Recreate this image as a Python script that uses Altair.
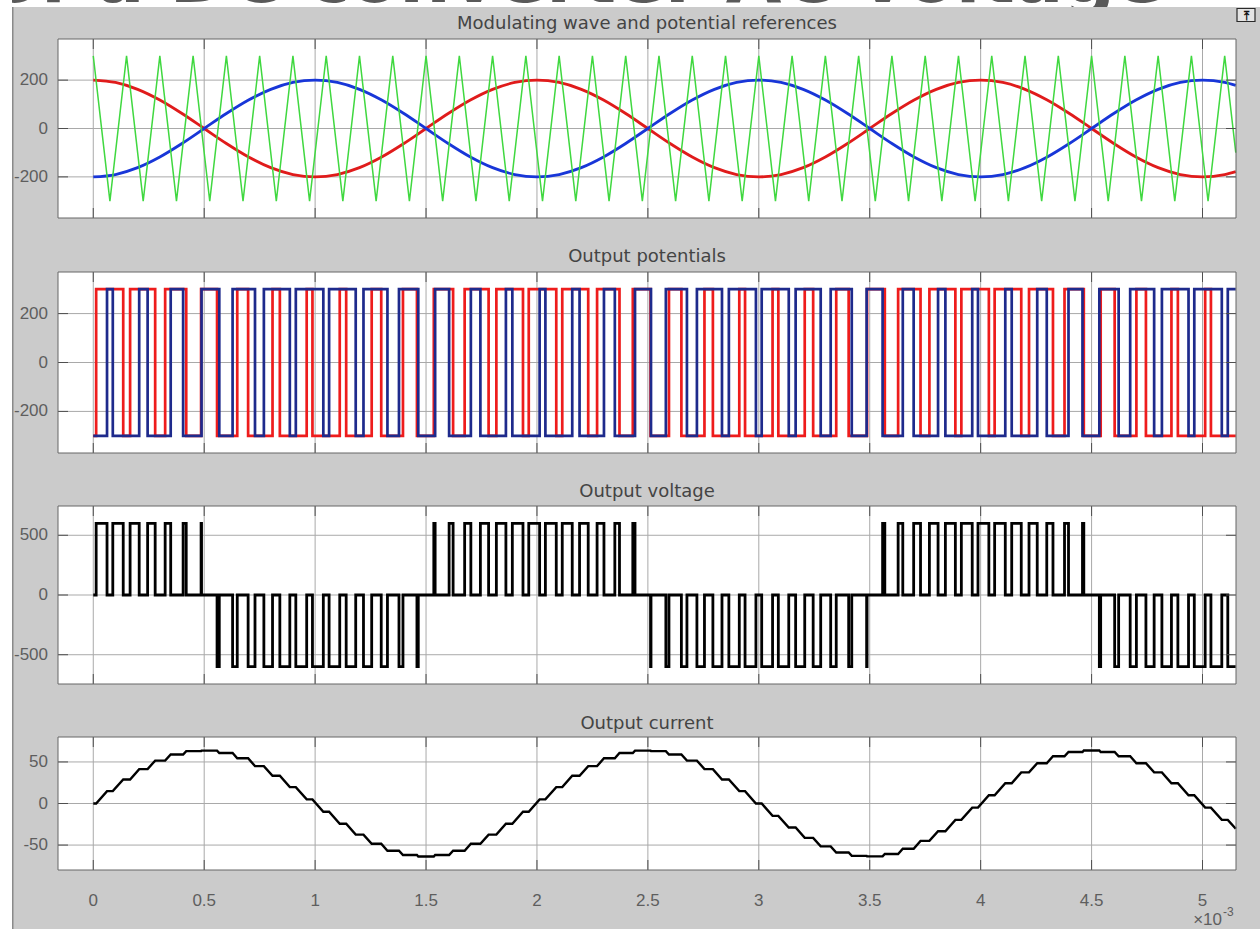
import altair as alt
import pandas as pd

# ---------------- data (time in ms) ----------------
ref_t = [0.0, 0.1, 0.2, 0.3, 0.4, 0.5, 0.6, 0.7, 0.8, 0.9,
         1.0, 1.1, 1.2, 1.3, 1.4, 1.5, 1.6, 1.7, 1.8, 1.9,
         2.0, 2.1, 2.2, 2.3, 2.4, 2.5, 2.6, 2.7, 2.8, 2.9,
         3.0, 3.1, 3.2, 3.3, 3.4, 3.5, 3.6, 3.7, 3.8, 3.9,
         4.0, 4.1, 4.2, 4.3, 4.4, 4.5, 4.6, 4.7, 4.8, 4.9,
         5.0, 5.1, 5.15]
ref_red = [200, 190.2, 161.8, 117.6, 61.8, 0, -61.8, -117.6, -161.8, -190.2,
           -200, -190.2, -161.8, -117.6, -61.8, 0, 61.8, 117.6, 161.8, 190.2,
           200, 190.2, 161.8, 117.6, 61.8, 0, -61.8, -117.6, -161.8, -190.2,
           -200, -190.2, -161.8, -117.6, -61.8, 0, 61.8, 117.6, 161.8, 190.2,
           200, 190.2, 161.8, 117.6, 61.8, 0, -61.8, -117.6, -161.8, -190.2,
           -200, -190.2, -178.2]
ref_blue = [-200, -190.2, -161.8, -117.6, -61.8, 0, 61.8, 117.6, 161.8, 190.2,
            200, 190.2, 161.8, 117.6, 61.8, 0, -61.8, -117.6, -161.8, -190.2,
            -200, -190.2, -161.8, -117.6, -61.8, 0, 61.8, 117.6, 161.8, 190.2,
            200, 190.2, 161.8, 117.6, 61.8, 0, -61.8, -117.6, -161.8, -190.2,
            -200, -190.2, -161.8, -117.6, -61.8, 0, 61.8, 117.6, 161.8, 190.2,
            200, 190.2, 178.2]
carrier_t = [0.0, 0.075, 0.15, 0.225, 0.3, 0.375, 0.45, 0.525, 0.6, 0.675,
             0.75, 0.825, 0.9, 0.975, 1.05, 1.125, 1.2, 1.275, 1.35, 1.425,
             1.5, 1.575, 1.65, 1.725, 1.8, 1.875, 1.95, 2.025, 2.1, 2.175,
             2.25, 2.325, 2.4, 2.475, 2.55, 2.625, 2.7, 2.775, 2.85, 2.925,
             3.0, 3.075, 3.15, 3.225, 3.3, 3.375, 3.45, 3.525, 3.6, 3.675,
             3.75, 3.825, 3.9, 3.975, 4.05, 4.125, 4.2, 4.275, 4.35, 4.425,
             4.5, 4.575, 4.65, 4.725, 4.8, 4.875, 4.95, 5.025, 5.1, 5.15]
carrier_v = [300, -300, 300, -300, 300, -300, 300, -300, 300, -300,
             300, -300, 300, -300, 300, -300, 300, -300, 300, -300,
             300, -300, 300, -300, 300, -300, 300, -300, 300, -300,
             300, -300, 300, -300, 300, -300, 300, -300, 300, -300,
             300, -300, 300, -300, 300, -300, 300, -300, 300, -300,
             300, -300, 300, -300, 300, -300, 300, -300, 300, -300,
             300, -300, 300, -300, 300, -300, 300, -300, 300, -100]

# switching instants in microseconds
va_switch_us = [13, 135, 166, 279, 324, 419, 486, 558, 649, 698, 808, 841, 962, 988,
                1111, 1140, 1255, 1298, 1396, 1459, 1535, 1622, 1674, 1782, 1817,
                1937, 1963, 2087, 2114, 2231, 2271, 2372, 2432, 2512, 2595, 2651,
                2755, 2793, 2912, 2938, 3062, 3088, 3207, 3245, 3349, 3405, 3488,
                3568, 3628, 3729, 3769, 3886, 3913, 4037, 4063, 4183, 4218, 4326,
                4378, 4465, 4541, 4604, 4702, 4745, 4860, 4889, 5012, 5038]
va_levels = [-300, 300, -300, 300, -300, 300, -300, 300, -300, 300,
             -300, 300, -300, 300, -300, 300, -300, 300, -300, 300,
             -300, 300, -300, 300, -300, 300, -300, 300, -300, 300,
             -300, 300, -300, 300, -300, 300, -300, 300, -300, 300,
             -300, 300, -300, 300, -300, 300, -300, 300, -300, 300,
             -300, 300, -300, 300, -300, 300, -300, 300, -300, 300,
             -300, 300, -300, 300, -300, 300, -300, 300, -300, -300]
vb_switch_us = [62, 88, 207, 245, 349, 405, 488, 568, 628, 729, 769, 886, 913, 1037,
                1063, 1183, 1218, 1326, 1378, 1465, 1541, 1604, 1702, 1745, 1860,
                1889, 2012, 2038, 2159, 2192, 2302, 2351, 2442, 2514, 2581, 2676,
                2721, 2834, 2865, 2987, 3013, 3135, 3166, 3279, 3324, 3419, 3486,
                3558, 3649, 3698, 3808, 3841, 3962, 3988, 4111, 4140, 4255, 4298,
                4396, 4459, 4535, 4622, 4674, 4782, 4817, 4937, 4963, 5087, 5114]
vb_levels = [-300, 300, -300, 300, -300, 300, -300, 300, -300, 300,
             -300, 300, -300, 300, -300, 300, -300, 300, -300, 300,
             -300, 300, -300, 300, -300, 300, -300, 300, -300, 300,
             -300, 300, -300, 300, -300, 300, -300, 300, -300, 300,
             -300, 300, -300, 300, -300, 300, -300, 300, -300, 300,
             -300, 300, -300, 300, -300, 300, -300, 300, -300, 300,
             -300, 300, -300, 300, -300, 300, -300, 300, -300, 300, 300]
vab_switch_us = [13, 62, 88, 135, 166, 207, 245, 279, 324, 349,
                 405, 419, 486, 488, 558, 568, 628, 649, 698, 729,
                 769, 808, 841, 886, 913, 962, 988, 1037, 1063, 1111,
                 1140, 1183, 1218, 1255, 1298, 1326, 1378, 1396, 1459, 1465,
                 1535, 1541, 1604, 1622, 1674, 1702, 1745, 1782, 1817, 1860,
                 1889, 1937, 1963, 2012, 2038, 2087, 2114, 2159, 2192, 2231,
                 2271, 2302, 2351, 2372, 2432, 2442, 2512, 2514, 2581, 2595,
                 2651, 2676, 2721, 2755, 2793, 2834, 2865, 2912, 2938, 2987,
                 3013, 3062, 3088, 3135, 3166, 3207, 3245, 3279, 3324, 3349,
                 3405, 3419, 3486, 3488, 3558, 3568, 3628, 3649, 3698, 3729,
                 3769, 3808, 3841, 3886, 3913, 3962, 3988, 4037, 4063, 4111,
                 4140, 4183, 4218, 4255, 4298, 4326, 4378, 4396, 4459, 4465,
                 4535, 4541, 4604, 4622, 4674, 4702, 4745, 4782, 4817, 4860,
                 4889, 4937, 4963, 5012, 5038, 5087, 5114]
vab_levels = [0,
              600, 0, 600, 0, 600, 0, 600, 0, 600, 0, 600, 0, 600, 0,
              -600, 0, -600, 0, -600, 0, -600, 0, -600, 0, -600, 0, -600, 0,
              -600, 0, -600, 0, -600, 0, -600, 0, -600, 0, -600, 0,
              600, 0, 600, 0, 600, 0, 600, 0, 600, 0, 600, 0, 600, 0,
              600, 0, 600, 0, 600, 0, 600, 0, 600, 0, 600, 0,
              -600, 0, -600, 0, -600, 0, -600, 0, -600, 0, -600, 0, -600, 0,
              -600, 0, -600, 0, -600, 0, -600, 0, -600, 0, -600, 0, -600, 0,
              600, 0, 600, 0, 600, 0, 600, 0, 600, 0, 600, 0, 600, 0,
              600, 0, 600, 0, 600, 0, 600, 0, 600, 0, 600, 0,
              -600, 0, -600, 0, -600, 0, -600, 0, -600, 0, -600, 0, -600, 0,
              -600, 0, -600,
              -600]
cur_values = [0.0,
              0.0, 14.9, 14.9, 28.9, 28.9, 41.4, 41.4, 51.6, 51.6, 58.9,
              58.9, 63.0, 63.0, 63.6, 63.6, 60.7, 60.7, 54.4, 54.4, 45.0,
              45.0, 33.3, 33.3, 19.7, 19.7, 5.0, 5.0, -10.0, -10.0, -24.4,
              -24.4, -37.4, -37.4, -48.5, -48.5, -56.8, -56.8, -62.0, -62.0, -63.8,
              -63.8, -62.0, -62.0, -56.8, -56.8, -48.5, -48.5, -37.4, -37.4, -24.4,
              -24.4, -10.0, -10.0, 5.0, 5.0, 19.7, 19.7, 33.3, 33.3, 45.0,
              45.0, 54.4, 54.4, 60.7, 60.7, 63.6, 63.6, 63.0, 63.0, 58.9,
              58.9, 51.6, 51.6, 41.4, 41.4, 28.9, 28.9, 14.9, 14.9, 0.0,
              0.0, -14.9, -14.9, -28.9, -28.9, -41.4, -41.4, -51.6, -51.6, -58.9,
              -58.9, -63.0, -63.0, -63.6, -63.6, -60.7, -60.7, -54.4, -54.4, -45.0,
              -45.0, -33.3, -33.3, -19.7, -19.7, -5.0, -5.0, 10.0, 10.0, 24.4,
              24.4, 37.4, 37.4, 48.5, 48.5, 56.8, 56.8, 62.0, 62.0, 63.8,
              63.8, 62.0, 62.0, 56.8, 56.8, 48.5, 48.5, 37.4, 37.4, 24.4,
              24.4, 10.0, 10.0, -5.0, -5.0, -19.7, -19.7,
              -30.4]

x_ticks = [0, 0.5, 1, 1.5, 2, 2.5, 3, 3.5, 4, 4.5, 5]
x_tick_labels = ["0", "0.5", "1", "1.5", "2", "2.5", "3", "3.5", "4", "4.5", "5"]
y_ticks_pot = [-200, 0, 200]
y_labels_pot = ["-200", "0", "200"]
y_ticks_volt = [-500, 0, 500]
y_labels_volt = ["-500", "0", "500"]
y_ticks_cur = [-50, 0, 50]
y_labels_cur = ["-50", "0", "50"]
T_END = 5.15


def step_table(switch_us, levels):
    ts = [0.0] + [u / 1000.0 for u in switch_us] + [T_END]
    return pd.DataFrame({"t": ts, "v": levels})


df_car = pd.DataFrame({"t": carrier_t, "v": carrier_v})
df_red = pd.DataFrame({"t": ref_t, "v": ref_red})
df_blue = pd.DataFrame({"t": ref_t, "v": ref_blue})
df_va = step_table(va_switch_us, va_levels)
df_vb = step_table(vb_switch_us, vb_levels)
df_vab = step_table(vab_switch_us, vab_levels)
df_cur = step_table(vab_switch_us, cur_values)

# ---------------- style ----------------
W = 1178
XDOM = [-0.159, 5.151]
ONE = alt.Data(values=[{"k": 1}])
GRAY = "#cbcbcb"
GRID = "#a9a9a9"
TICKC = "#4f4f4f"
BORDER = "#666666"
LABELC = "#5e5e5e"
TITLEC = "#444444"
LEFT = -68
xs = alt.Scale(domain=XDOM, nice=False, zero=False)
dfx = pd.DataFrame({"t": x_ticks, "lbl": x_tick_labels})


def vrect(x1, x2, y1, y2, color):
    return alt.Chart(ONE).mark_rect(color=color, strokeWidth=0).encode(
        x=alt.value(x1), x2=alt.value(x2), y=alt.value(y1), y2=alt.value(y2))


def panel(h, ydom, yvals, ylabels, series, title, gray_top, gray_bot, white_top,
          title_y=-10.5, x_labels=False, extras_front=(), extras_back=()):
    ys = alt.Scale(domain=ydom, nice=False, zero=False)
    dfy = pd.DataFrame({"v": yvals, "lbl": ylabels})
    X = alt.X("t:Q", scale=xs, axis=None)
    Y = alt.Y("v:Q", scale=ys, axis=None)
    layers = list(extras_back)
    layers += [
        vrect(LEFT, -46, white_top, gray_bot, "white"),
        vrect(-46, W + 24, gray_top, 0, GRAY),
        vrect(-46, W + 24, h, gray_bot, GRAY),
        vrect(-46, 0, 0, h, GRAY),
        vrect(W, W + 24, 0, h, GRAY),
        vrect(-46, -44.5, gray_top, gray_bot, "#8a8a8a"),
        alt.Chart(dfx).mark_rule(color=GRID, strokeWidth=1).encode(
            x=X, y=alt.value(0), y2=alt.value(h)),
        alt.Chart(dfy).mark_rule(color=GRID, strokeWidth=1).encode(
            y=Y, x=alt.value(0), x2=alt.value(W)),
    ]
    for df, color, sw, interp in series:
        layers.append(alt.Chart(df).mark_line(color=color, strokeWidth=sw,
                                              interpolate=interp).encode(x=X, y=Y))
    layers += [
        alt.Chart(dfx).mark_rule(color=TICKC, strokeWidth=1).encode(
            x=X, y=alt.value(0), y2=alt.value(10)),
        alt.Chart(dfx).mark_rule(color=TICKC, strokeWidth=1).encode(
            x=X, y=alt.value(h - 10), y2=alt.value(h)),
        alt.Chart(dfy).mark_rule(color=TICKC, strokeWidth=1).encode(
            y=Y, x=alt.value(0), x2=alt.value(10)),
        alt.Chart(dfy).mark_rule(color=TICKC, strokeWidth=1).encode(
            y=Y, x=alt.value(W - 10), x2=alt.value(W)),
        alt.Chart(ONE).mark_rect(fillOpacity=0, stroke=BORDER, strokeWidth=1).encode(
            x=alt.value(0), x2=alt.value(W), y=alt.value(0), y2=alt.value(h)),
        alt.Chart(dfy).mark_text(font="Liberation Sans", fontSize=17, color=LABELC,
                                 align="right", baseline="middle").encode(
            y=Y, x=alt.value(-10), text="lbl:N"),
        alt.Chart(ONE).mark_text(font="DejaVu Sans", fontSize=18, color=TITLEC,
                                 align="center", baseline="alphabetic").encode(
            x=alt.value(W / 2), y=alt.value(title_y), text=alt.value(title)),
    ]
    if x_labels:
        layers.append(alt.Chart(dfx).mark_text(
            font="Liberation Sans", fontSize=17, color=LABELC,
            align="center", baseline="top").encode(
            x=X, y=alt.value(h + 23), text="lbl:N"))
    layers += list(extras_front)
    return alt.layer(*layers).properties(width=W, height=h)


big_title = alt.Chart(ONE).mark_text(
    font="DejaVu Sans", fontWeight="bold", fontSize=72, color="#595959",
    align="left", baseline="alphabetic").encode(
    x=alt.value(LEFT), y=alt.value(-37), text=alt.value("of a DC converter AC voltage"))
icon = [
    alt.Chart(ONE).mark_rect(fill="#e4e4e4", stroke="#2a2a2a", strokeWidth=1.2).encode(
        x=alt.value(1179), x2=alt.value(1197), y=alt.value(-30.5), y2=alt.value(-17.5)),
    alt.Chart(ONE).mark_text(font="DejaVu Sans", fontSize=12, fontWeight="bold",
                             color="#111111", align="center", baseline="middle").encode(
        x=alt.value(1188), y=alt.value(-23.5), text=alt.value("⤒")),
]

p1 = panel(179, [-370, 370], y_ticks_pot, y_labels_pot,
           [(df_red, "#e01b1b", 2.8, "monotone"),
            (df_blue, "#1836d8", 2.8, "monotone"),
            (df_car, "#40d840", 1.5, "linear")],
           "Modulating wave and potential references", -32, 206, -39,
           extras_back=[big_title], extras_front=icon)
p2 = panel(181, [-370, 370], y_ticks_pot, y_labels_pot,
           [(df_va, "#ee1c1c", 2.7, "step-after"),
            (df_vb, "#1e2a8c", 2.7, "step-after")],
           "Output potentials", -27, 207, -27)
p3 = panel(178, [-745, 745], y_ticks_volt, y_labels_volt,
           [(df_vab, "#000000", 2.8, "step-after")],
           "Output voltage", -27, 205, -27, title_y=-9.5)
sci = [
    alt.Chart(ONE).mark_text(font="Liberation Sans", fontSize=17, color=LABELC,
                             align="right", baseline="alphabetic").encode(
        x=alt.value(1164), y=alt.value(188), text=alt.value("×10")),
    alt.Chart(ONE).mark_text(font="Liberation Sans", fontSize=12, color=LABELC,
                             align="left", baseline="alphabetic").encode(
        x=alt.value(1165), y=alt.value(179), text=alt.value("-3")),
]
p4 = panel(133, [-80, 80], y_ticks_cur, y_labels_cur,
           [(df_cur, "#000000", 2.4, "linear")],
           "Output current", -26, 192, -26, title_y=-8.5, x_labels=True,
           extras_front=sci)

chart = alt.vconcat(p1, p2, p3, p4, spacing=0).properties(
    padding={"left": -10, "top": -56, "right": 0, "bottom": 0},
    background="white",
).configure_view(strokeWidth=0, fill="white")

chart.save("out.html", embed_options={"renderer": "svg", "actions": False})
